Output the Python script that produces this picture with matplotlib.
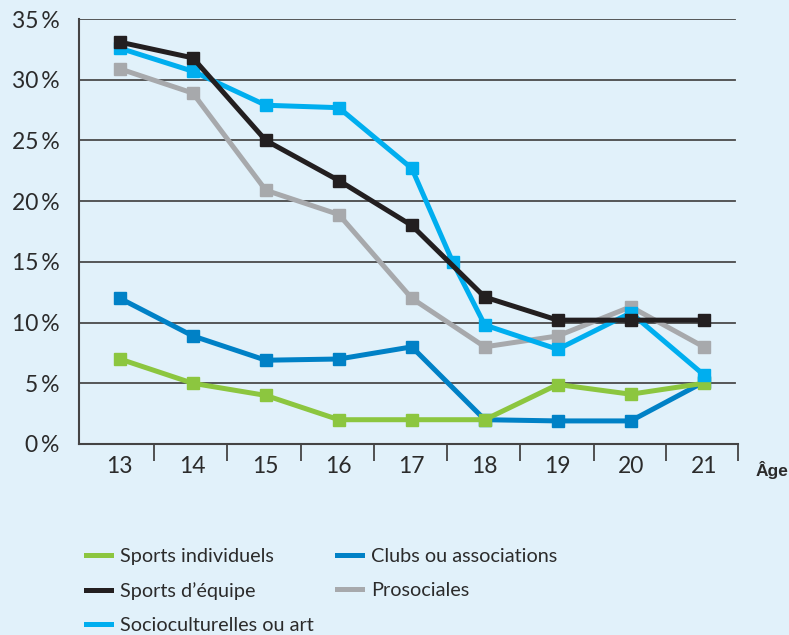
import matplotlib
matplotlib.use("Agg")
import matplotlib.pyplot as plt
from matplotlib.lines import Line2D

ages = [13, 14, 15, 16, 17, 18, 19, 20, 21]
sports_individuels = [7.0, 5.0, 4.0, 2.0, 2.0, 2.0, 4.9, 4.1, 5.0]
clubs = [12.0, 8.9, 6.9, 7.0, 8.0, 2.0, 1.9, 1.9, 5.1]
sports_equipe = [33.1, 31.8, 25.0, 21.7, 18.0, 12.1, 10.2, 10.2, 10.2]
prosociales = [30.9, 28.9, 20.9, 18.9, 12.0, 8.0, 8.9, 11.3, 8.0]
socio_ages = [13, 14, 15, 16, 17, 17.56, 18, 19, 20, 21]
socioculturelles = [32.6, 30.7, 27.9, 27.7, 22.7, 15.0, 9.8, 7.8, 10.8, 5.7]

yticks = [0, 5, 10, 15, 20, 25, 30, 35]
ytick_labels = ["0\u2009%", "5\u2009%", "10\u2009%", "15\u2009%", "20\u2009%", "25\u2009%", "30\u2009%", "35\u2009%"]

labels = ["Sports individuels", "Sports d\u2019équipe", "Socioculturelles ou art",
          "Clubs ou associations", "Prosociales"]
colors = {"green": "#8cc63f", "black": "#231f20", "cyan": "#00aeef",
          "blue": "#0081c6", "gray": "#a7a9ac"}

bg = "#e1f1fa"
txt = "#2b2b2b"
font = "Lato"

fig = plt.figure(figsize=(7.89, 6.35), dpi=100, facecolor=bg)
ax = fig.add_axes([0.1001, 0.3008, 0.8353, 0.6692], facecolor=bg)

lw = 3.6
ms = 8.5
kw = dict(lw=lw, marker="s", ms=ms, solid_joinstyle="miter", clip_on=False)
ax.plot(ages, clubs, color=colors["blue"], zorder=3, **kw)
ax.plot(ages, sports_individuels, color=colors["green"], zorder=4, **kw)
ax.plot(ages, prosociales, color=colors["gray"], zorder=3, **kw)
ax.plot(socio_ages, socioculturelles, color=colors["cyan"], zorder=4, **kw)
ax.plot(ages, sports_equipe, color=colors["black"], zorder=5, **kw)

ax.set_xlim(12.44, 21.47)
ax.set_ylim(0, 35)
ax.set_yticks(yticks)
ax.set_yticklabels(ytick_labels)
ax.set_xticks(ages)
ax.set_xticklabels([str(a) for a in ages])
ax.set_xticks([13.47, 14.47, 15.48, 16.48, 17.48, 18.48, 19.49, 20.48, 21.47], minor=True)
ax.tick_params(axis="x", which="major", length=0, pad=9, labelsize=16.5, labelcolor=txt)
ax.tick_params(axis="x", which="minor", length=12, width=1.3, color="#444444", direction="out")
ax.tick_params(axis="y", length=0, pad=14, labelsize=16.5, labelcolor=txt)
for lab in ax.get_xticklabels() + ax.get_yticklabels():
    lab.set_fontfamily([font, "DejaVu Sans"])
    lab.set_fontweight("normal")

for y in yticks[1:]:
    ax.axhline(y, xmin=0, xmax=0.9955, color="#4a4a4a", lw=1.3, zorder=1)

for s in ["top", "right"]:
    ax.spines[s].set_visible(False)
for s in ["left", "bottom"]:
    ax.spines[s].set_color("#444444")
    ax.spines[s].set_linewidth(1.5)

fig.text(0.999, 0.26, "Âge", fontsize=12.5, fontweight="bold",
         family=["Liberation Sans Narrow", "Liberation Sans", "DejaVu Sans"],
         color=txt, ha="right", va="center")

handles = [
    Line2D([], [], color=colors["green"], lw=lw),
    Line2D([], [], color=colors["black"], lw=lw),
    Line2D([], [], color=colors["cyan"], lw=lw),
    Line2D([], [], color=colors["blue"], lw=lw),
    Line2D([], [], color=colors["gray"], lw=lw),
]
leg = fig.legend(handles, labels, ncol=2, loc="upper left",
                 bbox_to_anchor=(0.099, 0.150), frameon=False,
                 prop={"family": font, "size": 14.3, "weight": "normal"},
                 handlelength=1.25, handletextpad=0.45, columnspacing=1.2,
                 labelspacing=0.86, borderaxespad=0)
for t in leg.get_texts():
    t.set_color(txt)

fig.savefig("out.png", dpi=100, facecolor=bg)
